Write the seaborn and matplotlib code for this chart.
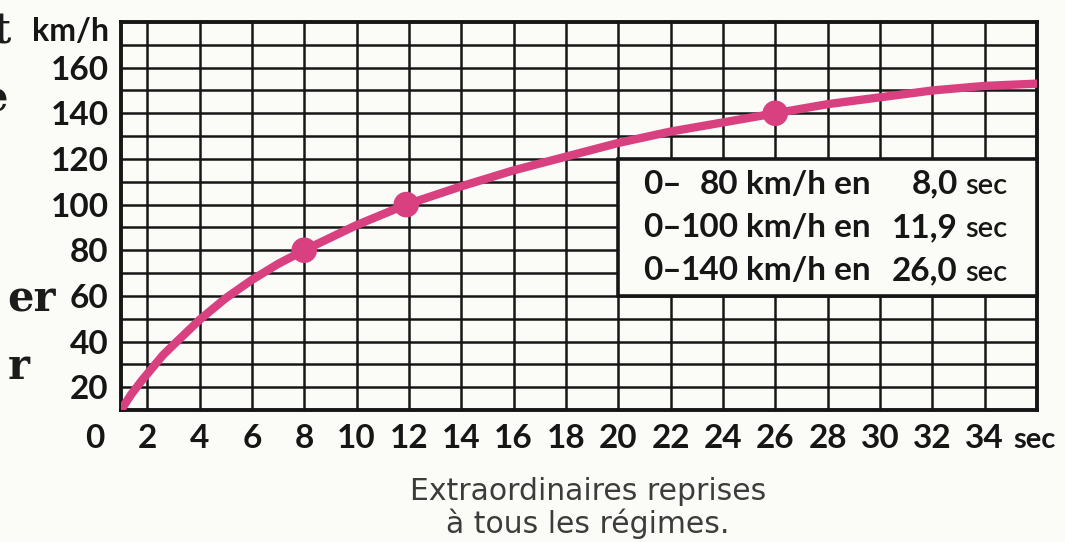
import matplotlib
matplotlib.use("Agg")
import matplotlib.pyplot as plt
import pandas as pd
import seaborn as sns
from matplotlib.patches import Rectangle

# ============================================================
# Données
# ============================================================
# courbe d'accélération : temps (sec) -> vitesse (km/h)
temps = [1.0, 1.4, 1.8, 2.2, 2.6, 3.0, 4.0, 5.0, 6.0, 7.0, 8.0, 10.0,
         11.9, 14.0, 16.0, 18.0, 20.0, 22.0, 24.0, 26.0, 28.0, 30.0,
         32.0, 34.0, 36.0]
vitesse = [10, 17, 23, 28.5, 34, 38.5, 49.5, 59, 67, 74, 80, 91,
           100, 108, 115, 121, 127, 132, 136, 140, 144, 147,
           150, 152, 153]

# points repères (aussi dans l'encadré)
repere_vitesse = [80, 100, 140]
repere_temps = [8.0, 11.9, 26.0]

x_ticks = list(range(2, 36, 2))
y_ticks = list(range(20, 180, 20))
legende = ["Extraordinaires reprises", "à tous les régimes."]

# ============================================================
# Style
# ============================================================
W, H = 1065, 542
BG = "#fbfbf8"
ROSE = "#d9407f"
NOIR = "#161616"

sns.set_theme(style="white")
plt.rcParams["font.family"] = ["Lato", "DejaVu Sans"]
plt.rcParams["axes.axisbelow"] = True

fig = plt.figure(figsize=(W / 100, H / 100), dpi=100, facecolor=BG)
# cadre : x 121 -> 1037 px, y 22 -> 410 px
ax = fig.add_axes([121 / W, 1 - 410 / H, (1037 - 121) / W, (410 - 22) / H])
ax.set_facecolor(BG)

df = pd.DataFrame({"t": temps, "v": vitesse})
sns.lineplot(data=df, x="t", y="v", ax=ax, color=ROSE, lw=6,
             sort=False, zorder=4)
sns.scatterplot(x=repere_temps, y=repere_vitesse, ax=ax, s=340,
                color=ROSE, edgecolor="none", zorder=5)

ax.set_xlim(1, 36)
ax.set_ylim(10, 180)
ax.set_xticks(x_ticks)
ax.set_yticks(y_ticks)
ax.set_yticks(range(30, 180, 20), minor=True)
ax.grid(which="both", color=NOIR, lw=1.8)
ax.tick_params(which="both", length=0)
ax.tick_params(axis="x", pad=10, labelsize=24, labelcolor=NOIR)
ax.tick_params(axis="y", pad=9, labelsize=24, labelcolor=NOIR)
for lab in ax.get_xticklabels() + ax.get_yticklabels():
    lab.set_fontweight("bold")
ax.set_xlabel("")
ax.set_ylabel("")
for sp in ax.spines.values():
    sp.set_visible(True)
    sp.set_color(NOIR)
    sp.set_linewidth(2.8)

# origine "0", unité "sec" et "km/h"
ax.annotate("0", xy=(0, 0), xycoords=ax.get_xaxis_transform(),
            xytext=(0, -10), textcoords="offset points", ha="center", va="top",
            fontsize=24, fontweight="bold", color=NOIR, annotation_clip=False)
ax.annotate("sec", xy=(35.08, 0), xycoords=ax.get_xaxis_transform(),
            xytext=(0, -27.5), textcoords="offset points", ha="left",
            va="baseline", fontsize=21, fontweight="bold", color=NOIR,
            annotation_clip=False)
ax.annotate("km/h", xy=(0, 176), xycoords=ax.get_yaxis_transform(),
            xytext=(-9, 0), textcoords="offset points", ha="right",
            va="center", fontsize=23, fontweight="bold", color=NOIR,
            annotation_clip=False)

# encadré des performances
ax.add_patch(Rectangle((20, 60), 16, 60, facecolor=BG, edgecolor=NOIR,
                       lw=2.6, zorder=6, clip_on=False))
lignes_y = [109, 90, 71]
kw = dict(va="center", color=NOIR, zorder=7, fontsize=24, fontweight="bold")
nombres = []
for v, t, y in zip(repere_vitesse, repere_temps, lignes_y):
    nombres.append(ax.text(24.6, y, f"{v}", ha="right", **kw))
    ax.text(24.9, y, "km/h en", ha="left", **kw)
    ax.text(32.98, y, f"{t:.1f}".replace(".", ","), ha="right", **kw)
    ax.text(33.25, y - 0.8, "sec", ha="left", va="center", color=NOIR,
            zorder=7, fontsize=21, fontweight="semibold")

# "0–" collé au nombre le plus large
renderer = fig.canvas.get_renderer()
gauche = min(n.get_window_extent(renderer).x0 for n in nombres)
x_tiret = ax.transData.inverted().transform((gauche + 1, 0))[0]
for y in lignes_y:
    ax.text(x_tiret, y, "0–", ha="right", **kw)

# légende sous le graphique
fig.text(588 / W, 1 - 492 / H, legende[0], ha="center", va="center",
         fontsize=21.5, color="#3c3c3c", family="DejaVu Sans")
fig.text(588 / W, 1 - 524 / H, legende[1], ha="center", va="center",
         fontsize=21.5, color="#3c3c3c", family="DejaVu Sans")

# fragments de la colonne voisine (coupés au bord)
serif = dict(family="DejaVu Serif", fontweight="bold", fontsize=30,
             color="#1c1c1c", ha="right", va="baseline")
fig.text(11 / W, 1 - 43 / H, "t", **serif)
fig.text(8 / W, 1 - 112 / H, "e", **serif)
fig.text(56 / W, 1 - 311 / H, "er", **serif)
fig.text(30 / W, 1 - 379 / H, "r", **serif)

fig.savefig("out.png", dpi=100, facecolor=BG)
